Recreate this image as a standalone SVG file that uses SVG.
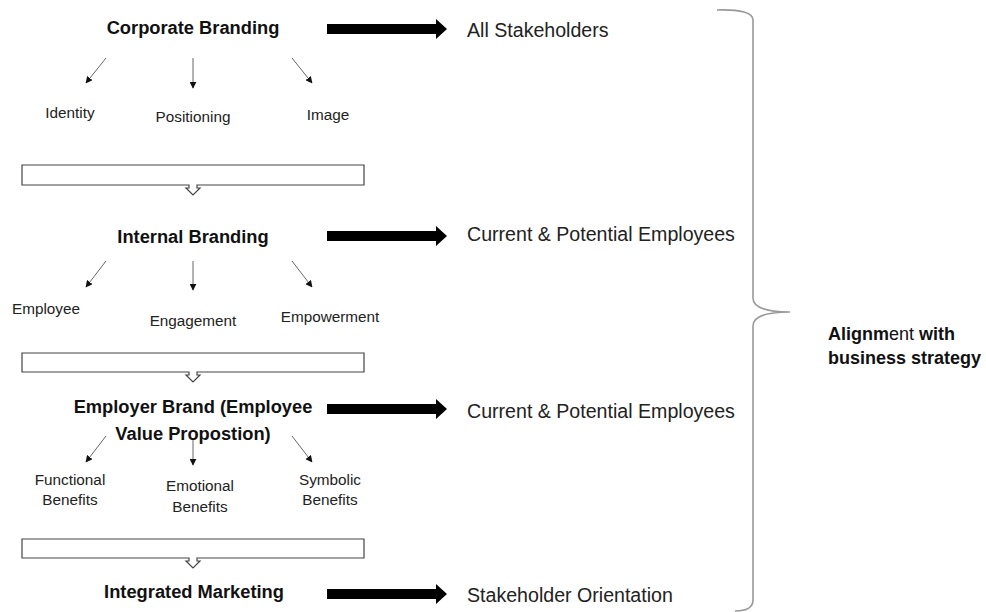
<svg xmlns="http://www.w3.org/2000/svg" width="986" height="612" viewBox="0 0 986 612">
<style>
.h{font-family:"Liberation Sans",Arial,sans-serif;font-weight:bold;font-size:18.3px;fill:#111;text-anchor:middle}
.r{font-family:"Liberation Sans",Arial,sans-serif;font-size:19.6px;fill:#222}
.s{font-family:"Liberation Sans",Arial,sans-serif;font-size:15.3px;fill:#222;text-anchor:middle}
.thin{stroke:#666;stroke-width:1;fill:none;marker-end:url(#ah)}
.bar{fill:#fff;stroke:#444;stroke-width:1.2}
</style>
<defs>
<marker id="ah" viewBox="0 0 10 10" refX="9" refY="5" markerWidth="7" markerHeight="7" markerUnits="userSpaceOnUse" orient="auto"><path d="M0,0 L10,5 L0,10 z" fill="#111"/></marker>
<path id="fat" d="M0,-5 L109,-5 L109,-10 L120,0 L109,10 L109,5 L0,5 z"/>
</defs>
<rect width="986" height="612" fill="#fff"/>

<g id="corporate">
<text class="h" x="193" y="34">Corporate Branding</text>
<text class="s" x="70" y="118">Identity</text>
<text class="s" x="193" y="122">Positioning</text>
<text class="s" x="328" y="120">Image</text>
</g>
<g id="internal">
<text class="h" x="193" y="243">Internal Branding</text>
<text class="s" x="46" y="314">Employee</text>
<text class="s" x="193" y="326">Engagement</text>
<text class="s" x="330" y="322">Empowerment</text>
</g>
<g id="employer">
<text class="h" x="193" y="413">Employer Brand (Employee</text>
<text class="h" x="193" y="440">Value Propostion)</text>
<text class="s" x="70" y="485">Functional</text>
<text class="s" x="70" y="505">Benefits</text>
<text class="s" x="200" y="491">Emotional</text>
<text class="s" x="200" y="512">Benefits</text>
<text class="s" x="330" y="485">Symbolic</text>
<text class="s" x="330" y="505">Benefits</text>
</g>
<g id="integrated">
<text class="h" x="194" y="598">Integrated Marketing</text>
</g>
<g id="audiences">
<text class="r" x="467" y="37">All Stakeholders</text>
<text class="r" x="467" y="241">Current &amp; Potential Employees</text>
<text class="r" x="467" y="418">Current &amp; Potential Employees</text>
<text class="r" x="467" y="602">Stakeholder Orientation</text>
</g>
<g id="alignment">
<path d="M717,10 Q753,9 753,20 L753,298 Q753,312 790,312 Q753,312 753,326 L753,600 Q753,611 735,611" fill="none" stroke="#999" stroke-width="1.6"/>
<text x="828" y="340" font-family="Liberation Sans,Arial,sans-serif" font-size="18" fill="#111"><tspan font-weight="bold">Alignm</tspan>ent<tspan font-weight="bold"> with</tspan></text>
<text x="828" y="364" font-family="Liberation Sans,Arial,sans-serif" font-size="18" font-weight="bold" fill="#111">business strategy</text>
</g>
<g id="bars">
<path class="bar" d="M22,165 H364 V185 H197 V188 H200 L193,195 L186,188 H189 V185 H22 Z"/>
<path class="bar" d="M22,353 H364 V372 H197 V375 H200 L193,382 L186,375 H189 V372 H22 Z"/>
<path class="bar" d="M22,539 H364 V558 H197 V561 H200 L193,568 L186,561 H189 V558 H22 Z"/>
</g>
<g id="connectors">
<line class="thin" x1="106" y1="58" x2="86" y2="83"/>
<line class="thin" x1="193" y1="58" x2="193" y2="88"/>
<line class="thin" x1="292" y1="58" x2="312" y2="83"/>
<line class="thin" x1="106" y1="261" x2="86" y2="287"/>
<line class="thin" x1="193" y1="261" x2="193" y2="290"/>
<line class="thin" x1="292" y1="261" x2="312" y2="287"/>
<line class="thin" x1="106" y1="436" x2="86" y2="462"/>
<line class="thin" x1="193" y1="440" x2="193" y2="465"/>
<line class="thin" x1="292" y1="436" x2="312" y2="462"/>
<use href="#fat" x="327" y="29"/>
<use href="#fat" x="327" y="236"/>
<use href="#fat" x="327" y="409"/>
<use href="#fat" x="327" y="594"/>
</g>
</svg>
